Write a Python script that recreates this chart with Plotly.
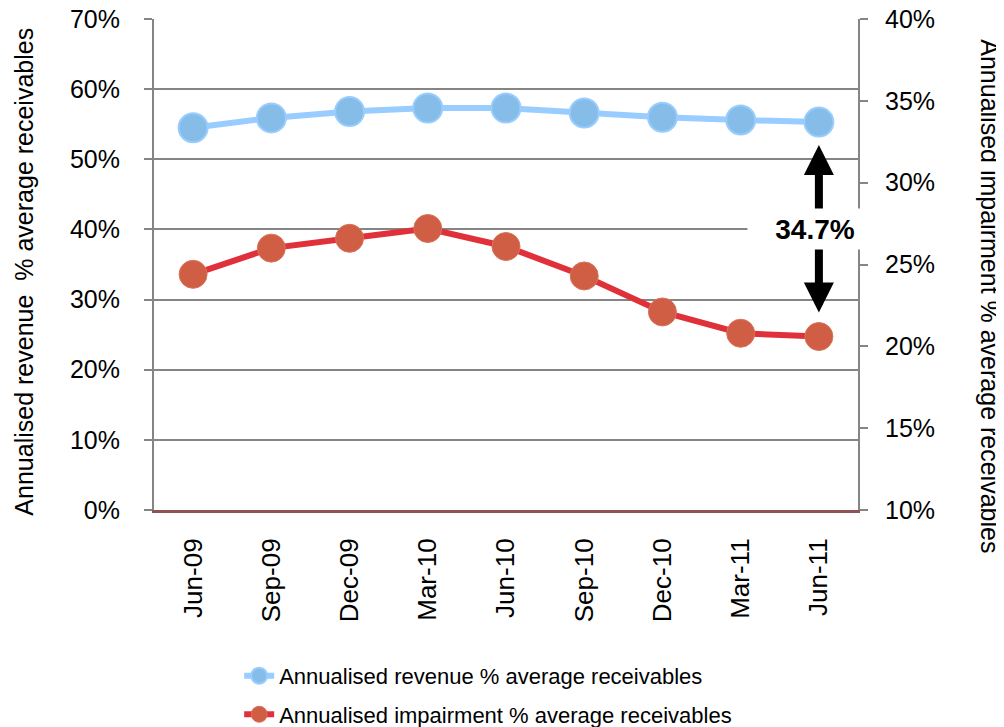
import plotly.graph_objects as go

categories = ["Jun-09", "Sep-09", "Dec-09", "Mar-10", "Jun-10", "Sep-10", "Dec-10", "Mar-11", "Jun-11"]
revenue = [54.5, 55.9, 56.8, 57.3, 57.3, 56.6, 56.0, 55.6, 55.3]
impairment = [24.4, 26.0, 26.6, 27.2, 26.1, 24.3, 22.1, 20.8, 20.6]
gap_label = "34.7%"
label_level = 40  # left-axis level where the gap label sits

left_range = [0, 70]
right_range = [10, 40]

FONT = "Liberation Sans, Arial, sans-serif"
GRAY = "#858585"

fig = go.Figure()
fig.add_trace(go.Scatter(
    x=categories, y=revenue, name="Annualised revenue % average receivables",
    mode="lines+markers", yaxis="y", legendgroup="a",
    line=dict(color="#99CCFF", width=6),
    marker=dict(size=29, color="#85BDE8", line=dict(color="#99CCFF", width=2)),
))
fig.add_trace(go.Scatter(
    x=categories, y=impairment, name="Annualised impairment % average receivables",
    mode="lines+markers", yaxis="y2", legendgroup="b",
    line=dict(color="#E0313A", width=6),
    marker=dict(size=28, color="#CF5E44", line=dict(color="#D8735C", width=1)),
))

last = len(categories) - 1
label_y2 = right_range[0] + (label_level - left_range[0]) / (left_range[1] - left_range[0]) * (right_range[1] - right_range[0])

annotations = [
    dict(x=last, y=revenue[-1], xref="x", yref="y", ax=last, ay=label_level, axref="x", ayref="y",
         text="", showarrow=True, arrowhead=2, arrowwidth=8, arrowsize=0.75, arrowcolor="black", standoff=23),
    dict(x=last, y=impairment[-1], xref="x", yref="y2", ax=last, ay=label_y2, axref="x", ayref="y2",
         text="", showarrow=True, arrowhead=2, arrowwidth=8, arrowsize=0.75, arrowcolor="black", standoff=24),
    dict(x=last, y=label_level, xref="x", yref="y", text="<b>" + gap_label + "</b>", showarrow=False,
         font=dict(family=FONT, size=28, color="black"), bgcolor="white", width=132, height=38, xshift=-4),
    dict(x=-0.185, y=0.485, xref="paper", yref="paper", text="Annualised revenue\u00a0 % average receivables",
         textangle=-90, showarrow=False, xanchor="center", yanchor="middle",
         font=dict(family=FONT, size=25, color="black")),
    dict(x=1.187, y=0.436, xref="paper", yref="paper", text="Annualised impairment % average receivables",
         textangle=90, showarrow=False, xanchor="center", yanchor="middle",
         font=dict(family=FONT, size=25, color="black")),
]

# page body has an 8px margin, so the figure is sized/offset to fit the 1004x727 window
fig.update_layout(
    width=996, height=719,
    margin=dict(l=146, r=146, t=11, b=217, autoexpand=False),
    paper_bgcolor="white", plot_bgcolor="white",
    font=dict(family=FONT, color="black"),
    showlegend=True,
    legend=dict(x=0.121, y=-0.295, xanchor="left", yanchor="top", orientation="v",
                font=dict(family=FONT, size=22, color="black"), traceorder="grouped",
                tracegroupgap=7, bgcolor="rgba(0,0,0,0)"),
    xaxis=dict(type="category", range=[-0.5, last + 0.5], showgrid=False, ticks="",
               tickangle=-90, tickfont=dict(size=26), showline=True, linecolor="#8C5454",
               linewidth=3, ticklabelstandoff=15, zeroline=False, automargin=False,
               ticklabeloverflow="allow"),
    yaxis=dict(range=left_range, dtick=10, ticksuffix="%", showgrid=True, gridcolor=GRAY,
               gridwidth=1.5, showline=True, linecolor=GRAY, linewidth=2, ticks="outside",
               ticklen=8, tickcolor=GRAY, tickwidth=1.5, tickfont=dict(size=25),
               ticklabelstandoff=19, zeroline=False, automargin=False, ticklabeloverflow="allow"),
    yaxis2=dict(range=right_range, dtick=5, ticksuffix="%", overlaying="y", side="right",
                showgrid=False, showline=True, linecolor=GRAY, linewidth=2, ticks="outside",
                ticklen=8, tickcolor=GRAY, tickwidth=1.5, tickfont=dict(size=25),
                ticklabelstandoff=12, zeroline=False, automargin=False, ticklabeloverflow="allow"),
    annotations=annotations,
)

fig.write_html("out.html")
